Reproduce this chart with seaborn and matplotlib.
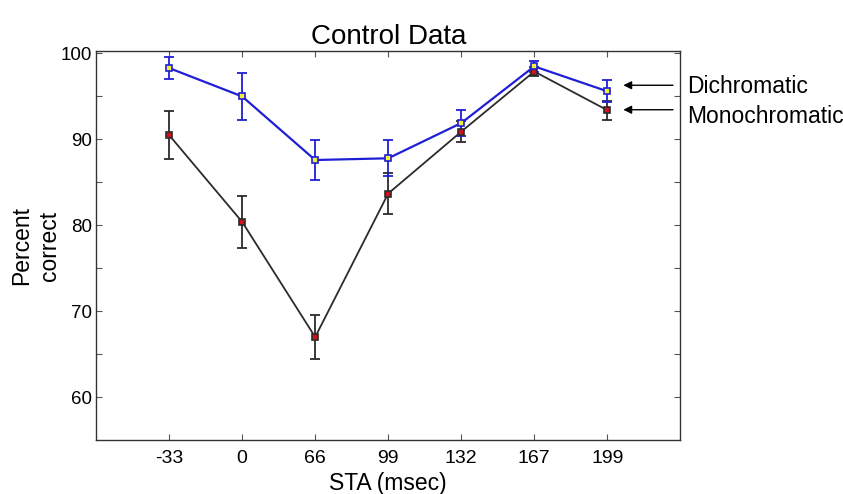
import numpy as np
import pandas as pd
import matplotlib
matplotlib.use("Agg")
import matplotlib.pyplot as plt
import seaborn as sns

# データ
sta_labels = ["-33", "0", "66", "99", "132", "167", "199"]
dichromatic = [98.3, 95.0, 87.6, 87.8, 91.9, 98.5, 95.6]
dichromatic_err = [1.3, 2.7, 2.3, 2.1, 1.5, 0.6, 1.3]
monochromatic = [90.5, 80.4, 67.0, 83.7, 90.9, 97.9, 93.4]
monochromatic_err = [2.8, 3.0, 2.6, 2.4, 1.2, 0.5, 1.1]

df = pd.DataFrame({
    "pos": list(range(len(sta_labels))) * 2,
    "pct": dichromatic + monochromatic,
    "err": dichromatic_err + monochromatic_err,
    "cond": ["Dichromatic"] * 7 + ["Monochromatic"] * 7,
})

sns.set_style("ticks")
plt.rcParams["font.family"] = ["Liberation Sans", "DejaVu Sans"]
plt.rcParams["text.color"] = "black"
plt.rcParams["axes.labelcolor"] = "black"
plt.rcParams["xtick.labelcolor"] = "black"
plt.rcParams["ytick.labelcolor"] = "black"

fig = plt.figure(figsize=(8.43, 4.94), dpi=100)
ax = fig.add_axes([0.114, 0.109, 0.693, 0.788])

styles = {
    "Monochromatic": dict(line="#2b2b2b", face="#d0101a", lw=1.3),
    "Dichromatic": dict(line="#1f1fd6", face="#f2f03a", lw=1.6),
}

for cond in ["Monochromatic", "Dichromatic"]:
    sub = df[df["cond"] == cond]
    st = styles[cond]
    ax.errorbar(sub["pos"], sub["pct"], yerr=sub["err"], fmt="none",
                ecolor=st["line"], elinewidth=1.3, capsize=3.5, capthick=1.3, zorder=2)
    sns.lineplot(data=sub, x="pos", y="pct", ax=ax, color=st["line"], lw=st["lw"],
                 marker="s", markersize=5, markerfacecolor=st["face"],
                 markeredgecolor=st["line"], markeredgewidth=1.2, zorder=3)

ax.set_xlim(-1, 7)
ax.set_ylim(55, 100.3)
ax.set_xticks(range(len(sta_labels)))
ax.set_xticklabels(sta_labels)
ax.set_yticks([60, 70, 80, 90, 100])
ax.set_yticks([65, 75, 85, 95], minor=True)
ax.tick_params(axis="both", which="both", direction="in", top=True, right=True,
               length=4, width=0.8, color="#555555")
ax.tick_params(axis="x", labelsize=14, pad=7)
ax.tick_params(axis="y", labelsize=13.5, pad=3)
for s in ax.spines.values():
    s.set_color("#333333")
    s.set_linewidth(1.0)

ax.set_title("Control Data", fontsize=20, pad=5)
ax.set_xlabel("STA (msec)", fontsize=16.5, labelpad=4)
ax.set_ylabel("Percent\ncorrect", fontsize=16.5, labelpad=0, linespacing=1.25)

# 右側の注釈
arrow = dict(arrowstyle="-|>", color="black", lw=1.0, shrinkA=0, shrinkB=0, mutation_scale=12)
ax.annotate("", xy=(6.22, 96.3), xytext=(6.9, 96.3), annotation_clip=False, arrowprops=arrow)
ax.annotate("", xy=(6.22, 93.45), xytext=(6.9, 93.45), annotation_clip=False, arrowprops=arrow)
ax.text(7.1, 96.15, "Dichromatic", fontsize=16.5, va="center", ha="left", clip_on=False)
ax.text(7.1, 92.65, "Monochromatic", fontsize=16.5, va="center", ha="left", clip_on=False)

if ax.get_legend() is not None:
    ax.get_legend().remove()

fig.savefig("out.png", dpi=100)
